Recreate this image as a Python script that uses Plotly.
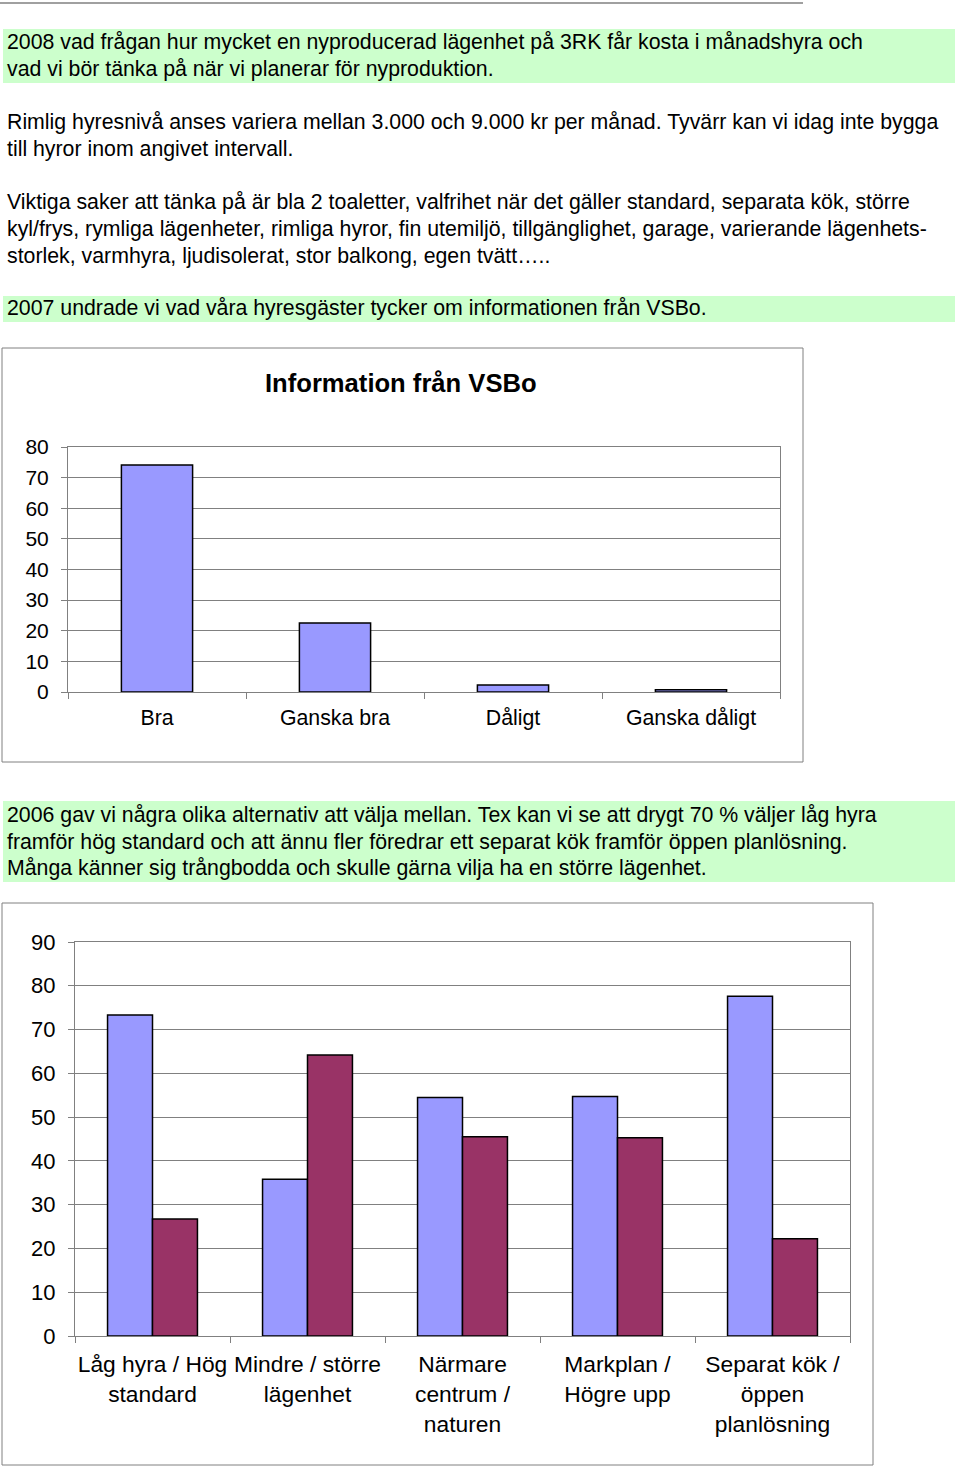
import plotly.graph_objects as go

W, H = 960, 1467
FONT = "Liberation Sans, Arial, sans-serif"

# ---- data ----
info_categories = ["Bra", "Ganska bra", "Dåligt", "Ganska dåligt"]
info_values = [74.1, 22.5, 2.3, 0.7]
info_yticks = [0, 10, 20, 30, 40, 50, 60, 70, 80]

alt_categories = ["Låg hyra / Hög<br>standard", "Mindre / större<br>lägenhet",
                  "Närmare<br>centrum /<br>naturen", "Markplan /<br>Högre upp",
                  "Separat kök /<br>öppen<br>planlösning"]
alt_first = [73.3, 35.8, 54.5, 54.7, 77.6]
alt_second = [26.7, 64.2, 45.5, 45.3, 22.2]
alt_yticks = [0, 10, 20, 30, 40, 50, 60, 70, 80, 90]

text_lines = [
    (42, "2008 vad frågan hur mycket en nyproducerad lägenhet på 3RK får kosta i månadshyra och"),
    (69, "vad vi bör tänka på när vi planerar för nyproduktion."),
    (122, "Rimlig hyresnivå anses variera mellan 3.000 och 9.000 kr per månad. Tyvärr kan vi idag inte bygga"),
    (149, "till hyror inom angivet intervall."),
    (202, "Viktiga saker att tänka på är bla 2 toaletter, valfrihet när det gäller standard, separata kök, större"),
    (229, "kyl/frys, rymliga lägenheter, rimliga hyror, fin utemiljö, tillgänglighet, garage, varierande lägenhets-"),
    (256, "storlek, varmhyra, ljudisolerat, stor balkong, egen tvätt….."),
    (308, "2007 undrade vi vad våra hyresgäster tycker om informationen från VSBo."),
    (815, "2006 gav vi några olika alternativ att välja mellan. Tex kan vi se att drygt 70 % väljer låg hyra"),
    (842, "framför hög standard och att ännu fler föredrar ett separat kök framför öppen planlösning."),
    (868, "Många känner sig trångbodda och skulle gärna vilja ha en större lägenhet."),
]

BLUE = "#9999FF"
PLUM = "#993366"


def px(x):
    return x / W


def py(y):
    return 1 - y / H


fig = go.Figure()

fig.add_trace(go.Bar(x=info_categories, y=info_values, width=0.4,
                     marker=dict(color=BLUE, line=dict(color="black", width=1.5)),
                     xaxis="x", yaxis="y", showlegend=False))
fig.add_trace(go.Bar(x=alt_categories, y=alt_first,
                     marker=dict(color=BLUE, line=dict(color="black", width=1.5)),
                     xaxis="x2", yaxis="y2", showlegend=False))
fig.add_trace(go.Bar(x=alt_categories, y=alt_second,
                     marker=dict(color=PLUM, line=dict(color="black", width=1.5)),
                     xaxis="x2", yaxis="y2", showlegend=False))

shapes = []
# green highlight bands
for (y0, y1) in [(29, 83), (296, 322), (801, 882)]:
    shapes.append(dict(type="rect", xref="paper", yref="paper",
                       x0=px(3), x1=px(955), y0=py(y1), y1=py(y0),
                       fillcolor="#CCFFCC", line=dict(width=0), layer="below"))
# top line (bottom of previous chart frame)
shapes.append(dict(type="line", xref="paper", yref="paper",
                   x0=px(0), x1=px(803), y0=py(3), y1=py(3),
                   line=dict(color="#808080", width=1.5)))
# chart frames
for (x0, y0, x1, y1) in [(2, 348, 803, 762), (2, 903, 873, 1465)]:
    shapes.append(dict(type="rect", xref="paper", yref="paper",
                       x0=px(x0), x1=px(x1), y0=py(y1), y1=py(y0),
                       line=dict(color="#808080", width=1), fillcolor="rgba(0,0,0,0)",
                       layer="below"))

annotations = []
for (y, t) in text_lines:
    annotations.append(dict(text=t, xref="paper", yref="paper", x=px(5), y=py(y),
                            xanchor="left", yanchor="middle", showarrow=False,
                            font=dict(family=FONT, size=21.3, color="black")))
annotations.append(dict(text="<b>Information från VSBo</b>", xref="paper", yref="paper",
                        x=px(401), y=py(383), xanchor="center", yanchor="middle",
                        showarrow=False, font=dict(family=FONT, size=25.6, color="black")))

axis_common = dict(showline=True, linecolor="#808080", linewidth=1, mirror=True,
                   ticks="outside", ticklen=6, tickcolor="#808080", zeroline=False,
                   automargin=False)

fig.update_layout(
    width=W, height=H, margin=dict(l=0, r=0, t=0, b=0, pad=0, autoexpand=False),
    paper_bgcolor="white", plot_bgcolor="white", showlegend=False,
    barmode="group", bargap=0.42, bargroupgap=0,
    font=dict(family=FONT, color="black"),
    shapes=shapes, annotations=annotations,
    xaxis=dict(domain=[px(68), px(780)], anchor="y", type="category",
               tickson="boundaries", showgrid=False, ticklabelstandoff=6, tickangle=0,
               tickfont=dict(family=FONT, size=21.3, color="black"), **axis_common),
    yaxis=dict(domain=[py(692), py(447)], anchor="x", range=[0, 80],
               tickvals=info_yticks, showgrid=True, gridcolor="#808080", gridwidth=1,
               ticklabelstandoff=8,
               tickfont=dict(family=FONT, size=21, color="black"), **axis_common),
    xaxis2=dict(domain=[px(75), px(850)], anchor="y2", type="category",
                tickson="boundaries", showgrid=False, ticklabelstandoff=8, tickangle=0,
                tickfont=dict(family=FONT, size=22.8, color="black"), **axis_common),
    yaxis2=dict(domain=[py(1336), py(942)], anchor="x2", range=[0, 90],
                tickvals=alt_yticks, showgrid=True, gridcolor="#808080", gridwidth=1,
                ticklabelstandoff=8,
                tickfont=dict(family=FONT, size=22, color="black"), **axis_common),
)

fig.write_html("out.html", config={"displayModeBar": False},
               post_script="document.body.style.margin='0';document.body.style.overflow='hidden';")
